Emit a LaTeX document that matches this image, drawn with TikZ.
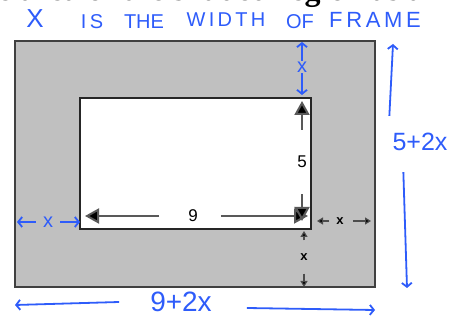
\documentclass[tikz,border=0pt]{standalone}
\usepackage{fontspec}
\setmainfont{Liberation Serif}
\setsansfont{Liberation Sans}
\usetikzlibrary{arrows.meta,positioning}
\definecolor{handblue}{RGB}{46,92,250}
\definecolor{framegray}{RGB}{192,192,192}

\begin{document}
\begin{tikzpicture}[
    x=1pt, y=-1pt,
    frame/.style={draw=black!75, line width=1.6pt, fill=framegray},
    hole/.style={draw=black!85, line width=1.8pt, fill=white},
    bigdim/.style={draw=black!65, line width=2pt, -{Triangle[length=14pt,width=15pt,fill=black]}},
    smalldim/.style={draw=black!70, line width=1.2pt, -{Triangle[length=6pt,width=7pt,fill=black]}},
    dimlabel/.style={font=\sffamily\fontsize{17}{17}\selectfont, inner sep=1pt},
    smalllabel/.style={font=\sffamily\bfseries\fontsize{13}{13}\selectfont, inner sep=1pt},
    hand/.style={draw=handblue, line width=1.8pt, -{Straight Barb[length=4pt,width=10pt]}},
    handtext/.style={text=handblue, font=\sffamily\fontsize{#1}{#1}\selectfont, inner sep=1pt},
    handtext/.default=20
]
    \useasboundingbox (0,0) rectangle (461,320);

    % cut-off question line
    \node [anchor=base east, font=\bfseries\fontsize{32}{32}\selectfont, inner sep=0pt] (question) at (424,1) {e area of the shaded region as a};

    % frame and picture
    \coordinate (outerNW) at (15,41);
    \coordinate (outerSE) at (375,287);
    \coordinate (innerNW) at (80,98);
    \coordinate (innerSE) at (311,229);
    \draw [frame] (outerNW) rectangle (outerSE);
    \draw [hole] (innerNW) rectangle (innerSE);

    % printed dimensions
    \node [dimlabel] (nine) at (193,216) {9};
    \coordinate (nineL) at (85,216);
    \coordinate (nineR) at (308,216);
    \draw [bigdim] (nine.west) ++(-28,0) -- (nineL);
    \draw [bigdim] (nine.east) ++(22,0) -- (nineR);
    \node [dimlabel] (five) at (302,162) {5};
    \coordinate (fiveT) at (302,101);
    \coordinate (fiveB) at (302,221);
    \draw [bigdim] (five.north) ++(0,-25) -- (fiveT);
    \draw [bigdim] (five.south) ++(0,25) -- (fiveB);

    \node [smalllabel] (xright) at (340,221) {x};
    \coordinate (xrightL) at (317,221);
    \coordinate (xrightR) at (371,221);
    \draw [smalldim] (xright.west) ++(-6,0) -- (xrightL);
    \draw [smalldim] (xright.east) ++(8,0) -- (xrightR);
    \node [smalllabel] (xbottom) at (304,257) {x};
    \coordinate (xbottomT) at (304,231);
    \coordinate (xbottomB) at (304,287);
    \draw [smalldim] (xbottom.north) ++(0,-12) -- (xbottomT);
    \draw [smalldim] (xbottom.south) ++(0,12) -- (xbottomB);

    % handwritten notes
    \node [handtext=26] (wX) at (35,19) {X};
    \node [handtext] (wIS) at (92,22) {I\,S};
    \node [handtext] (wTHE) at (144,22) {THE};
    \node [handtext] (wWIDTH) at (226,20) {W\,I\,D\,T\,H};
    \node [handtext] (wOF) at (300,22) {OF};
    \node [handtext=22] (wFRAME) at (375,20) {F\,R\,A\,M\,E};

    \node [handtext] (xtop) at (302,67) {x};
    \coordinate (xtopT) at (302,42);
    \coordinate (xtopB) at (302,95);
    \draw [hand] (xtop.north) -- (xtopT);
    \draw [hand] (xtop.south) -- (xtopB);

    \node [handtext] (xleft) at (48,222) {x};
    \coordinate (xleftL) at (17,222);
    \coordinate (xleftR) at (80,222);
    \draw [hand] (xleft.west) ++(-6,0) -- (xleftL);
    \draw [hand] (xleft.east) ++(6,0) -- (xleftR);

    \node [handtext=25] (height) at (420,142) {5+2x};
    \coordinate (heightT) at (393,44);
    \coordinate (heightB) at (407,288);
    \draw [hand] (height.north west) ++(-2,-16) -- (heightT);
    \draw [hand] (height.south west) ++(12,20) -- (heightB);

    \node [handtext=28] (width) at (181,302) {9+2x};
    \coordinate (widthL) at (15,305);
    \coordinate (widthR) at (375,310);
    \draw [hand] (width.west) ++(-30,0) -- (widthL);
    \draw [hand] (width.east) ++(34,6) -- (widthR);
\end{tikzpicture}
\end{document}
